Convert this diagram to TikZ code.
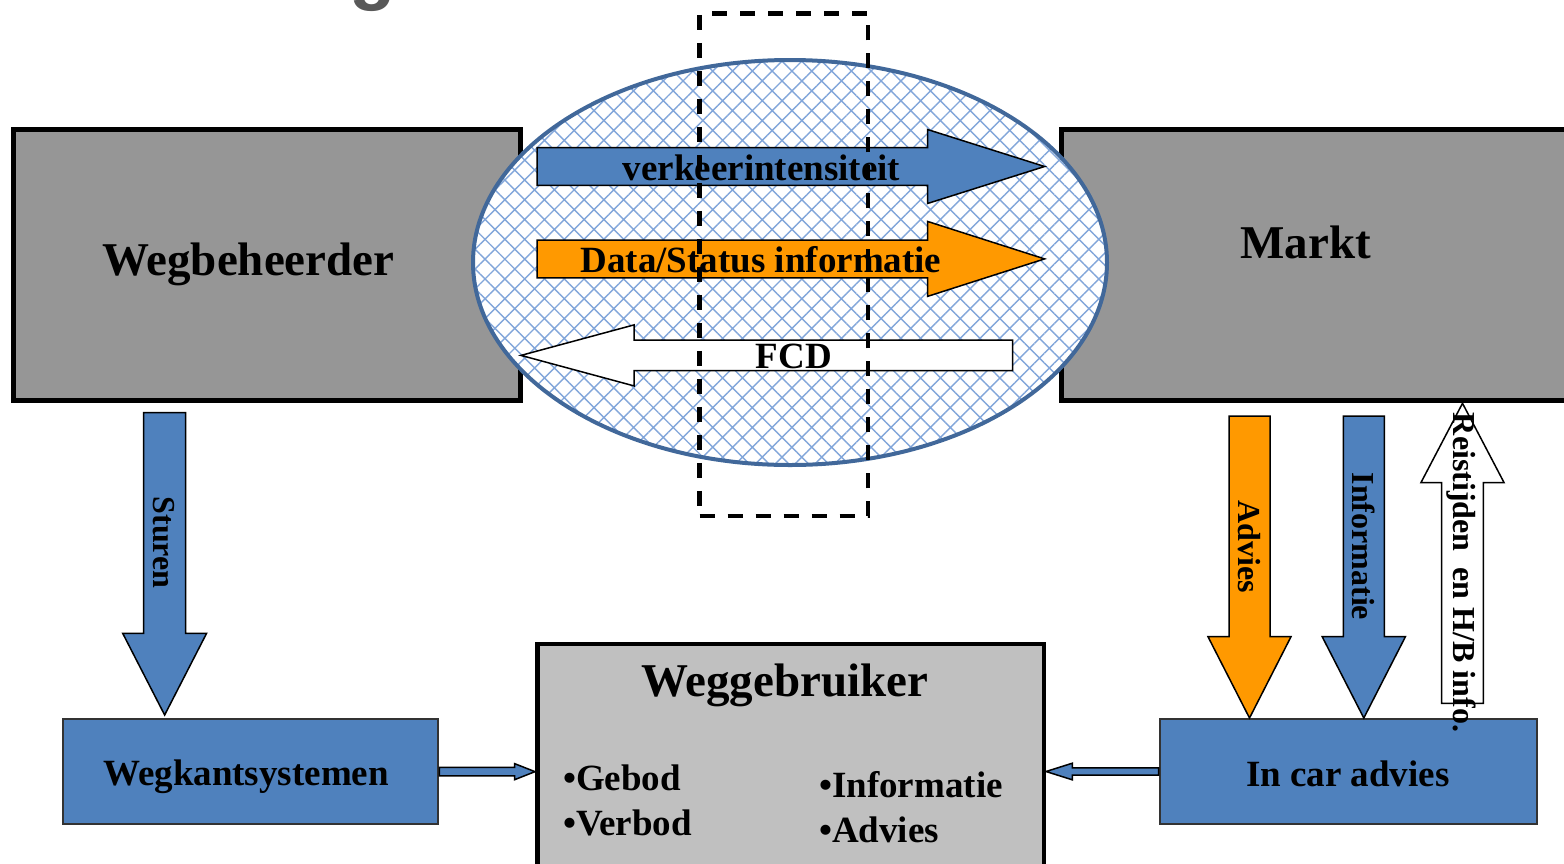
\documentclass[tikz,border=0pt]{standalone}
\usepackage{fontspec}
\setmainfont{Liberation Serif}
\newfontfamily\titlesans{Liberation Sans}
\usetikzlibrary{calc,patterns.meta,shapes.geometric}
\definecolor{boxblue}{HTML}{4F81BD}
\definecolor{arroworange}{HTML}{FF9900}
\definecolor{boxgray}{HTML}{969696}
\definecolor{userbox}{HTML}{C0C0C0}
\definecolor{ellline}{HTML}{41689A}
\definecolor{hatchblue}{RGB}{130,166,218}
\definecolor{titlegray}{HTML}{595959}
\newcommand\hblockarrow[7]{%
  \filldraw[blockarr,#7] (#1,#4-#5) -- (#2,#4-#5) -- (#2,#4-#6) -- (#3,#4)
    -- (#2,#4+#6) -- (#2,#4+#5) -- (#1,#4+#5) -- cycle;}
\newcommand\vblockarrow[7]{%
  \filldraw[blockarr,#7] (#1-#5,#2) -- (#1-#5,#3) -- (#1-#6,#3) -- (#1,#4)
    -- (#1+#6,#3) -- (#1+#5,#3) -- (#1+#5,#2) -- cycle;}
\begin{document}
\begin{tikzpicture}[x=1pt,y=-1pt,
  bigbox/.style={draw=black,line width=5pt,fill=boxgray,inner sep=0pt,outer sep=2.5pt},
  userbx/.style={draw=black,line width=4.5pt,fill=userbox,inner sep=0pt,outer sep=2.25pt},
  bluebx/.style={draw=black!80,line width=2pt,fill=boxblue,inner sep=0pt,outer sep=1pt},
  blockarr/.style={draw=black,line width=1.5pt,line join=miter},
  thinarr/.style={draw=black,line width=1.5pt,fill=boxblue,line join=miter},
  bigtxt/.style={font=\fontsize{47}{56}\selectfont\bfseries,inner sep=0pt,anchor=base},
  midtxt/.style={font=\fontsize{37}{44}\selectfont\bfseries,inner sep=0pt,anchor=base},
  itemtxt/.style={font=\fontsize{37}{44}\selectfont\bfseries,inner sep=0pt,anchor=base west},
  vtxt/.style={font=\fontsize{32}{38}\selectfont\bfseries,inner sep=0pt,rotate=-90},
  winbox/.style={draw=black,line width=4.5pt,dash pattern=on 15pt off 13pt,inner sep=0pt}
]
\useasboundingbox (0,0) rectangle (1564,863);
\clip (0,0) rectangle (1564,863);

% title fragment
\node[font=\titlesans\fontsize{76}{84}\selectfont\bfseries,text=titlegray,anchor=base,inner sep=0pt] (ttl) at (373,-5) {g};

% main boxes
\node[bigbox,minimum width=507pt,minimum height=271.6pt] (wb) at (266.7,265) {};
\node[bigtxt] (wbt) at (248.3,275) {Wegbeheerder};
\node[bigbox,minimum width=540pt,minimum height=271.6pt] (mk) at (1331.9,265) {};
\node[bigtxt] (mkt) at (1305.7,258.3) {Markt};

\node[userbx,minimum width=506.5pt,minimum height=255.8pt] (wg) at (790.5,772.1) {};
\node[bigtxt] (wgt) at (784.7,696.7) {Weggebruiker};
\node[itemtxt] (i1) at (563,790) {•Gebod};
\node[itemtxt] (i2) at (563,835) {•Verbod};
\node[itemtxt] (i3) at (819,797) {•Informatie};
\node[itemtxt] (i4) at (819,842) {•Advies};

\node[bluebx,minimum width=375.5pt,minimum height=104.7pt] (wk) at (250.55,771.65) {};
\node[midtxt] (wkt) at (246,785) {Wegkantsystemen};
\node[bluebx,minimum width=376.8pt,minimum height=105pt] (ic) at (1348.1,771.5) {};
\node[midtxt] (ict) at (1347.8,786) {In car advies};

% ellipse
\node[ellipse,draw=ellline,line width=4pt,minimum width=634pt,minimum height=405pt,inner sep=0pt,
  preaction={fill=white},pattern={Hatch[angle=45,distance=14pt,line width=1.4pt]},pattern color=hatchblue]
  (ell) at (790,262.5) {};

% horizontal block arrows
\hblockarrow{537}{927.5}{1044.6}{166.5}{18.8}{37}{fill=boxblue}
\node[midtxt] (l1) at (761.5,180) {verkeerintensiteit};
\hblockarrow{537}{927.5}{1044.6}{258.9}{18.9}{37.5}{fill=arroworange}
\node[midtxt] (l2) at (761,272.7) {Data/Status informatie};
\hblockarrow{1012.5}{634}{521}{355.4}{15.3}{30.5}{fill=white}
\node[midtxt] (l3) at (794,368) {FCD};

% vertical block arrows
\vblockarrow{164.65}{412.7}{633.3}{715}{21.05}{41.95}{fill=boxblue}
\node[vtxt] (l4) at (163.7,542.5) {Sturen};
\vblockarrow{1249.5}{416}{636.7}{718}{20.5}{41.5}{fill=arroworange}
\node[vtxt] (l5) at (1249,547) {Advies};
\vblockarrow{1363.8}{416}{636.7}{718}{20.5}{41.6}{fill=boxblue}
\node[vtxt] (l6) at (1363.7,546.4) {Informatie};
\vblockarrow{1462.5}{703.3}{482.7}{403.3}{20.8}{41.6}{fill=white}
\node[vtxt] (l7) at (1461,572.5) {Reistijden\ \ en H/B info.};

% thin connectors
\coordinate (a1) at (wk.east);
\coordinate (a2) at (wg.west |- wk.east);
\filldraw[thinarr] ($(a1)+(0,-4.2)$) -- ($(a2)+(-20.3,-4.2)$) -- ($(a2)+(-20.3,-8)$) -- (a2)
  -- ($(a2)+(-20.3,8)$) -- ($(a2)+(-20.3,4.2)$) -- ($(a1)+(0,4.2)$) -- cycle;
\coordinate (a3) at (ic.west);
\coordinate (a4) at (wg.east |- ic.west);
\filldraw[thinarr] ($(a3)+(0,-3.7)$) -- ($(a4)+(26.3,-3.7)$) -- ($(a4)+(26.3,-8.3)$) -- (a4)
  -- ($(a4)+(26.3,8.3)$) -- ($(a4)+(26.3,3.7)$) -- ($(a3)+(0,3.7)$) -- cycle;

% dashed window
\node[winbox,minimum width=168.3pt,minimum height=502.3pt] (win) at (783.85,264.85) {};
\end{tikzpicture}
\end{document}
